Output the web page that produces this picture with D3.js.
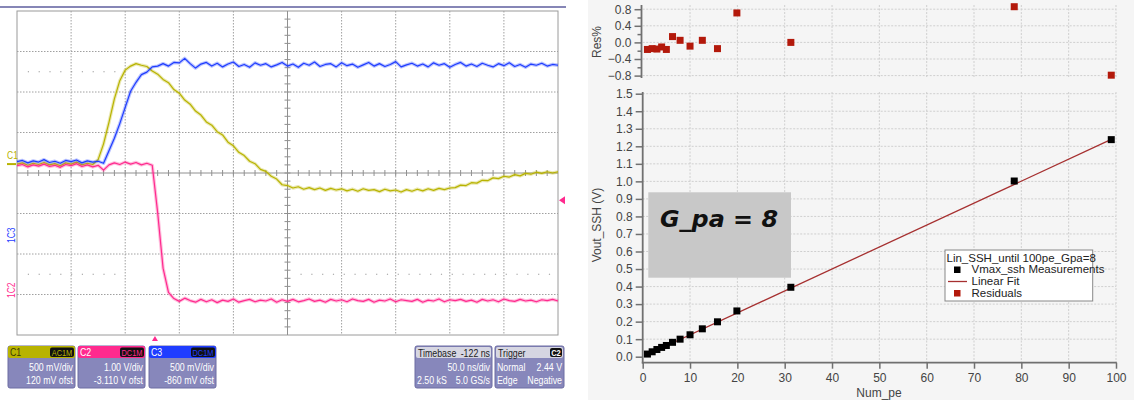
<!DOCTYPE html>
<html><head><meta charset="utf-8">
<script src="https://cdn.jsdelivr.net/npm/d3@7"></script>
<style>body{margin:0;background:#fff}svg{display:block}</style>
</head><body><svg id="c" width="1134" height="400"></svg>
<script>
// ---------------- DATA: linear-fit chart ----------------
const numPe       = [1.0, 2.0, 3.0, 4.0, 5.0, 6.3, 7.9, 10.0, 12.6, 15.8, 19.9, 31.3, 78.5, 99.0];
const voutSsh     = [0.015, 0.028, 0.041, 0.053, 0.064, 0.082, 0.100, 0.125, 0.159, 0.199, 0.261, 0.396, 1.002, 1.238];
const residualPct = [-0.17, -0.15, -0.16, -0.11, -0.17, 0.14, 0.05, -0.09, 0.05, -0.15, 0.71, 0.00, 0.86, -0.79];
const fitNumPe    = [0.6, 99.0];
const fitVout     = [0.007, 1.239];
const xTicks      = [0, 10, 20, 30, 40, 50, 60, 70, 80, 90, 100];
const yTicks      = [0.0, 0.1, 0.2, 0.3, 0.4, 0.5, 0.6, 0.7, 0.8, 0.9, 1.0, 1.1, 1.2, 1.3, 1.4, 1.5];
const resTicks    = [-0.8, -0.4, 0.0, 0.4, 0.8];
const resMinor    = [-0.6, -0.2, 0.2, 0.6];
const legendTitle = "Lin_SSH_until 100pe_Gpa=8";
const legendItems = ["Vmax_ssh Measurements", "Linear Fit", "Residuals"];
const gainLabel   = "G_pa = 8";

// ---------------- DATA: oscilloscope ----------------
const scopeTimeNs = [0,5,10,15,20,25,30,35,40,45,50,55,60,65,70,75,80,85,90,95,100,105,110,115,120,125,130,135,140,145,150,155,160,165,170,175,180,185,190,195,200,205,210,215,220,225,230,235,240,245,250,255,260,265,270,275,280,285,290,295,300,305,310,315,320,325,330,335,340,345,350,355,360,365,370,375,380,385,390,395,400,405,410,415,420,425,430,435,440,445,450,455,460,465,470,475,480,485,490,495,500];
const c1Div = [0.22,0.25,0.19,0.24,0.21,0.26,0.20,0.23,0.18,0.25,0.22,0.27,0.20,0.24,0.21,
  0.33,0.72,1.25,1.83,2.28,2.54,2.64,2.70,2.66,2.63,2.52,2.44,2.31,2.23,2.06,
  1.97,1.80,1.70,1.53,1.43,1.26,1.18,1.02,0.94,0.76,0.67,0.51,0.43,0.29,0.23,
  0.09,0.04,-0.08,-0.15,-0.29,-0.31,-0.37,-0.34,-0.40,-0.36,-0.41,-0.37,-0.43,-0.38,-0.42,
  -0.39,-0.44,-0.40,-0.45,-0.39,-0.43,-0.41,-0.46,-0.40,-0.44,-0.42,-0.47,-0.41,-0.45,-0.40,
  -0.44,-0.39,-0.43,-0.38,-0.41,-0.37,-0.36,-0.30,-0.31,-0.24,-0.25,-0.18,-0.19,-0.12,-0.14,
  -0.08,-0.10,-0.04,-0.07,-0.01,-0.03,0.02,-0.01,0.03,0.00,0.03];
const c3Div = [0.28,0.31,0.25,0.30,0.27,0.33,0.26,0.29,0.24,0.31,0.28,0.32,0.25,0.30,0.27,0.29,
  0.24,0.55,0.86,1.22,1.62,2.02,2.24,2.43,2.49,2.62,2.64,2.70,2.64,2.73,2.72,2.83,2.70,2.59,2.69,2.73,
  2.64,2.71,2.62,2.69,2.74,2.63,2.68,2.61,2.72,2.66,
  2.70,2.62,2.67,2.73,2.64,2.69,2.61,2.71,2.66,2.74,
  2.63,2.68,2.70,2.62,2.72,2.65,2.69,2.61,2.67,2.73,
  2.64,2.70,2.63,2.68,2.75,2.62,2.67,2.71,2.64,2.69,
  2.62,2.72,2.66,2.70,2.61,2.68,2.73,2.64,2.69,2.63,
  2.71,2.66,2.62,2.70,2.65,2.72,2.63,2.68,2.61,2.69,
  2.66,2.71,2.64,2.68,2.66];
const c2Div = [0.18,0.21,0.15,0.20,0.17,0.22,0.16,0.19,0.14,0.21,0.18,0.23,0.16,0.20,0.15,0.19,
  0.07,0.20,0.25,0.21,0.27,0.22,0.26,0.20,0.24,0.19,-0.98,-2.35,-2.95,-3.10,-3.17,-3.09,-3.15,-3.19,
  -3.12,-3.18,-3.13,-3.20,-3.14,-3.17,-3.11,-3.19,-3.15,-3.12,
  -3.18,-3.14,-3.16,-3.11,-3.19,-3.13,-3.17,-3.12,-3.18,-3.15,
  -3.11,-3.17,-3.14,-3.19,-3.12,-3.16,-3.13,-3.18,-3.11,-3.15,
  -3.17,-3.12,-3.19,-3.14,-3.16,-3.11,-3.18,-3.13,-3.15,-3.17,
  -3.12,-3.19,-3.14,-3.16,-3.11,-3.18,-3.13,-3.15,-3.12,-3.17,
  -3.14,-3.19,-3.12,-3.16,-3.13,-3.18,-3.11,-3.15,-3.17,-3.12,
  -3.16,-3.14,-3.18,-3.13,-3.15,-3.12,-3.16];
const triggerTimeNs = 127.5;
const triggerLevelDiv = -0.67;
const channelNames  = ["C1", "C2", "C3"];
const channelCoupl  = ["AC1M", "DC1M", "DC1M"];
const channelScale  = ["500 mV/div", "1.00 V/div", "500 mV/div"];
const channelOffset = ["120 mV ofst", "-3.110 V ofst", "-860 mV ofst"];
const timebaseText  = ["Timebase", "-122 ns", "50.0 ns/div", "2.50 kS", "5.0 GS/s"];
const triggerText   = ["Trigger", "C2", "Normal", "2.44 V", "Edge", "Negative"];

// ---------------- DRAW ----------------
const svg = d3.select("#c");
const SANS = "'Liberation Sans', Arial, sans-serif";
const colC1 = "#b8b300", colC2 = "#ff2a8e", colC3 = "#1f3dff";

// narrow scope-style text (horizontally condensed)
function ntext(g, x, y, str, opt = {}) {
  return g.append("text")
    .attr("transform", `translate(${x},${y}) scale(${opt.sx || 0.8},1)`)
    .attr("text-anchor", opt.anchor || "start")
    .attr("font-family", SANS).attr("font-size", opt.size || 11)
    .attr("font-weight", opt.weight || "normal")
    .attr("fill", opt.fill || "#fff").text(str);
}

// ===== oscilloscope =====
const tx = d3.scaleLinear().domain([0, 500]).range([17, 558]);
const dy = d3.scaleLinear().domain([-4, 4]).range([335, 11]);
const osc = svg.append("g");

osc.append("line").attr("x1", 0).attr("x2", 566).attr("y1", 7).attr("y2", 7)
  .attr("stroke", "#5e5e9e").attr("stroke-width", 1.6);

osc.append("rect").attr("x", tx(0)).attr("y", dy(4)).attr("width", tx(500) - tx(0)).attr("height", dy(-4) - dy(4))
  .attr("fill", "#fff").attr("stroke", "#9a9a9a").attr("stroke-width", 1);

const vGrid = d3.range(50, 500, 50).filter(t => t !== 250);
const hGrid = [-3, -2, -1, 1, 2, 3];
osc.selectAll(".vg").data(vGrid).enter().append("line")
  .attr("x1", d => tx(d)).attr("x2", d => tx(d)).attr("y1", dy(4)).attr("y2", dy(-4))
  .attr("stroke", "#a0a0a0").attr("stroke-dasharray", "1.5,1.5");
osc.selectAll(".hg").data(hGrid).enter().append("line")
  .attr("x1", tx(0)).attr("x2", tx(500)).attr("y1", d => dy(d)).attr("y2", d => dy(d))
  .attr("stroke", "#a0a0a0").attr("stroke-dasharray", "1.5,1.5");
osc.append("line").attr("x1", tx(250)).attr("x2", tx(250)).attr("y1", dy(4)).attr("y2", dy(-4)).attr("stroke", "#909090");
osc.append("line").attr("x1", tx(0)).attr("x2", tx(500)).attr("y1", dy(0)).attr("y2", dy(0)).attr("stroke", "#909090");
osc.selectAll(".mt").data(d3.range(10, 500, 10)).enter().append("line")
  .attr("x1", d => tx(d)).attr("x2", d => tx(d)).attr("y1", dy(0) - 3).attr("y2", dy(0) + 3).attr("stroke", "#909090");
osc.selectAll(".mv").data(d3.range(-3.8, 4, 0.2)).enter().append("line")
  .attr("x1", tx(250) - 3).attr("x2", tx(250) + 3).attr("y1", d => dy(d)).attr("y2", d => dy(d)).attr("stroke", "#909090");
[[2.5, 10, 95], [-2.5, 10, 95], [-2.5, 262, 497]].forEach(([lv, a, b]) => {
  osc.append("line").attr("x1", tx(a)).attr("x2", tx(b)).attr("y1", dy(lv)).attr("y2", dy(lv))
    .attr("stroke", "#999").attr("stroke-width", 1.2).attr("stroke-dasharray", "1.2,9.6");
});

const traceLine = vals => d3.line().x((d, i) => tx(scopeTimeNs[i])).y(d => dy(d))(vals);
[[c1Div, colC1], [c2Div, colC2], [c3Div, colC3]].forEach(([vals, col]) => {
  osc.append("path").attr("d", traceLine(vals)).attr("fill", "none").attr("stroke", col)
    .attr("stroke-width", 3.4).attr("stroke-opacity", 0.3).attr("stroke-linejoin", "round");
  osc.append("path").attr("d", traceLine(vals)).attr("fill", "none").attr("stroke", col)
    .attr("stroke-width", 1.2).attr("stroke-linejoin", "round");
});

// channel markers on left
ntext(osc, 7, 159, "C1", { size: 10, fill: colC1, sx: 0.85 });
osc.append("line").attr("x1", 7).attr("x2", 16).attr("y1", dy(0.22)).attr("y2", dy(0.22)).attr("stroke", colC1).attr("stroke-width", 2);
osc.append("text").attr("transform", "translate(15,243) rotate(-90) scale(0.85,1)").attr("font-family", SANS).attr("font-size", 10).attr("fill", colC3).text("1C3");
osc.append("text").attr("transform", "translate(15,298) rotate(-90) scale(0.85,1)").attr("font-family", SANS).attr("font-size", 10).attr("fill", colC2).text("1C2");
const trX = tx(triggerTimeNs);
osc.append("path").attr("d", `M${trX - 3},341 L${trX + 3},341 L${trX},336 Z`).attr("fill", colC2);
const trY = dy(triggerLevelDiv);
osc.append("path").attr("d", `M565,${trY - 4} L565,${trY + 4} L559,${trY} Z`).attr("fill", colC2);

// channel info boxes
const boxBody = "#8787bb", boxEdge = "#6c6ca2";
const chCols = [colC1, colC2, colC3];
const chX = [8, 78, 149];
channelNames.forEach((nm, i) => {
  const g = osc.append("g").attr("transform", `translate(${chX[i]},346)`);
  g.append("rect").attr("width", 67).attr("height", 42).attr("rx", 2).attr("fill", boxBody).attr("stroke", boxEdge);
  g.append("rect").attr("width", 67).attr("height", 12).attr("rx", 2).attr("fill", chCols[i]);
  g.append("rect").attr("x", 42).attr("y", 1.5).attr("width", 24).attr("height", 9.5).attr("rx", 2).attr("fill", "#111");
  ntext(g, 2, 10, nm, { fill: i === 0 ? "#3a3a00" : "#fff" });
  ntext(g, 54, 9.6, channelCoupl[i], { size: 9.5, anchor: "middle", fill: chCols[i], sx: 0.78 });
  ntext(g, 65, 25, channelScale[i], { anchor: "end" });
  ntext(g, 65, 38, channelOffset[i], { anchor: "end" });
});
{
  const g = osc.append("g").attr("transform", "translate(415,346)");
  g.append("rect").attr("width", 77).attr("height", 42).attr("rx", 2).attr("fill", boxBody).attr("stroke", boxEdge);
  g.append("rect").attr("x", 1).attr("y", 1).attr("width", 75).attr("height", 11).attr("rx", 2).attr("fill", "#d6d6e2");
  ntext(g, 3, 10.5, timebaseText[0], { fill: "#222" });
  ntext(g, 75, 10.5, timebaseText[1], { fill: "#222", anchor: "end" });
  ntext(g, 75, 25, timebaseText[2], { anchor: "end" });
  ntext(g, 2, 38, timebaseText[3]);
  ntext(g, 75, 38, timebaseText[4], { anchor: "end" });
}
{
  const g = osc.append("g").attr("transform", "translate(495,346)");
  g.append("rect").attr("width", 69).attr("height", 42).attr("rx", 2).attr("fill", boxBody).attr("stroke", boxEdge);
  g.append("rect").attr("x", 1).attr("y", 1).attr("width", 67).attr("height", 11).attr("rx", 2).attr("fill", "#d6d6e2");
  g.append("rect").attr("x", 55).attr("y", 2).attr("width", 12).attr("height", 9).attr("rx", 2).attr("fill", "#111");
  ntext(g, 3, 10.5, triggerText[0], { fill: "#222" });
  ntext(g, 61, 10, triggerText[1], { size: 9.5, anchor: "middle", weight: "bold" });
  ntext(g, 2, 25, triggerText[2]);
  ntext(g, 67, 25, triggerText[3], { anchor: "end" });
  ntext(g, 2, 38, triggerText[4]);
  ntext(g, 67, 38, triggerText[5], { anchor: "end" });
}

// ===== linear fit chart =====
const R = svg.append("g");
R.append("rect").attr("x", 588).attr("y", 0).attr("width", 546).attr("height", 400).attr("fill", "#f5f5f5");

const x = d3.scaleLinear().domain([0, 100]).range([642.7, 1116]);
const yM = d3.scaleLinear().domain([0, 1.5]).range([356.7, 93.7]);
const yR = d3.scaleLinear().domain([-0.8, 0.8]).range([75.6, 9.2]);
const gridCol = "#cfcfcf", axisCol = "#707070", labCol = "#444";

R.selectAll(".gxm").data(xTicks.slice(1)).enter().append("line")
  .attr("x1", d => x(d)).attr("x2", d => x(d)).attr("y1", 92).attr("y2", 362.7)
  .attr("stroke", gridCol).attr("stroke-dasharray", "2,1.5");
R.selectAll(".gym").data(yTicks.slice(1)).enter().append("line")
  .attr("x1", x(0)).attr("x2", x(100)).attr("y1", d => yM(d)).attr("y2", d => yM(d))
  .attr("stroke", gridCol).attr("stroke-dasharray", "2,1.5");
R.selectAll(".gxr").data(xTicks.slice(1)).enter().append("line")
  .attr("x1", d => x(d)).attr("x2", d => x(d)).attr("y1", 5).attr("y2", 78)
  .attr("stroke", gridCol).attr("stroke-dasharray", "2,1.5");
R.selectAll(".gyr").data(resTicks).enter().append("line")
  .attr("x1", x(0)).attr("x2", x(100)).attr("y1", d => yR(d)).attr("y2", d => yR(d))
  .attr("stroke", gridCol).attr("stroke-dasharray", "2,1.5");

function styleAxis(g) {
  g.select(".domain").remove();
  g.selectAll(".tick line").attr("stroke", axisCol).attr("stroke-width", 1.5);
  g.selectAll(".tick text").attr("fill", labCol).attr("font-family", SANS).attr("font-size", 12);
}
R.append("g").attr("transform", "translate(642.7,0)")
  .call(d3.axisLeft(yM).tickValues(yTicks).tickFormat(d3.format(".1f")).tickSize(7).tickPadding(3)).call(styleAxis);
R.append("g").attr("transform", "translate(0,362.7)")
  .call(d3.axisBottom(x).tickValues(xTicks).tickFormat(d3.format("d")).tickSize(6).tickPadding(5)).call(styleAxis);
R.append("g").attr("transform", "translate(641.5,0)")
  .call(d3.axisLeft(yR).tickValues(resTicks).tickFormat(d3.format(".1f")).tickSize(7).tickPadding(3)).call(styleAxis);
R.append("g").attr("transform", "translate(641.5,0)")
  .call(d3.axisLeft(yR).tickValues(resMinor).tickFormat("").tickSize(4)).call(styleAxis);
R.append("line").attr("x1", 642.7).attr("x2", 642.7).attr("y1", 92).attr("y2", 363.5).attr("stroke", axisCol).attr("stroke-width", 1.8);
R.append("line").attr("x1", 641.8).attr("x2", 1116.8).attr("y1", 362.7).attr("y2", 362.7).attr("stroke", axisCol).attr("stroke-width", 1.8);
R.append("line").attr("x1", 641.5).attr("x2", 641.5).attr("y1", 5).attr("y2", 78).attr("stroke", axisCol).attr("stroke-width", 1.8);

R.append("text").attr("transform", "translate(601,42) rotate(-90)").attr("text-anchor", "middle")
  .attr("font-family", SANS).attr("font-size", 12).attr("fill", labCol).text("Res%");
R.append("text").attr("transform", "translate(601,225) rotate(-90)").attr("text-anchor", "middle")
  .attr("font-family", SANS).attr("font-size", 12).attr("fill", labCol).text("Vout_SSH (V)");
R.append("text").attr("x", 879).attr("y", 397).attr("text-anchor", "middle")
  .attr("font-family", SANS).attr("font-size", 12).attr("fill", labCol).text("Num_pe");

R.append("path").attr("d", d3.line().x(d => x(d[0])).y(d => yM(d[1]))(fitNumPe.map((n, i) => [n, fitVout[i]])))
  .attr("stroke", "#a63030").attr("stroke-width", 1.3).attr("fill", "none");
const S = 7;
R.selectAll(".pt").data(numPe).enter().append("rect")
  .attr("x", (d) => x(d) - S / 2).attr("y", (d, i) => yM(voutSsh[i]) - S / 2)
  .attr("width", S).attr("height", S).attr("fill", "#000");
R.selectAll(".rs").data(numPe).enter().append("rect")
  .attr("x", (d) => x(d) - S / 2).attr("y", (d, i) => yR(residualPct[i]) - S / 2)
  .attr("width", S).attr("height", S).attr("fill", "#b3190b");

R.append("rect").attr("x", 648.3).attr("y", 192.3).attr("width", 142.7).attr("height", 85.4).attr("fill", "#c8c8c8");
R.append("text").attr("x", 660).attr("y", 227).attr("font-family", "'DejaVu Sans', sans-serif").attr("font-weight", "bold")
  .attr("font-style", "italic").attr("font-size", 23).attr("fill", "#111")
  .attr("textLength", 118).attr("lengthAdjust", "spacingAndGlyphs").text(gainLabel);

const L = R.append("g");
L.append("rect").attr("x", 945).attr("y", 250).attr("width", 147.7).attr("height", 51).attr("fill", "#fff").attr("stroke", "#888");
L.append("text").attr("x", 946.5).attr("y", 261.5).attr("font-family", SANS).attr("font-size", 11.5).attr("fill", "#222").text(legendTitle);
const ly = [273, 285, 297];
legendItems.forEach((t, i) => {
  L.append("text").attr("x", 971.5).attr("y", ly[i]).attr("font-family", SANS).attr("font-size", 11.5).attr("fill", "#222").text(t);
});
L.append("rect").attr("x", 954).attr("y", 266.5).attr("width", 6.5).attr("height", 6.5).attr("fill", "#000");
L.append("line").attr("x1", 948).attr("x2", 967).attr("y1", 281.5).attr("y2", 281.5).attr("stroke", "#a63030").attr("stroke-width", 1.3);
L.append("rect").attr("x", 954).attr("y", 290).attr("width", 6.5).attr("height", 6.5).attr("fill", "#b3190b");
</script></body></html>
